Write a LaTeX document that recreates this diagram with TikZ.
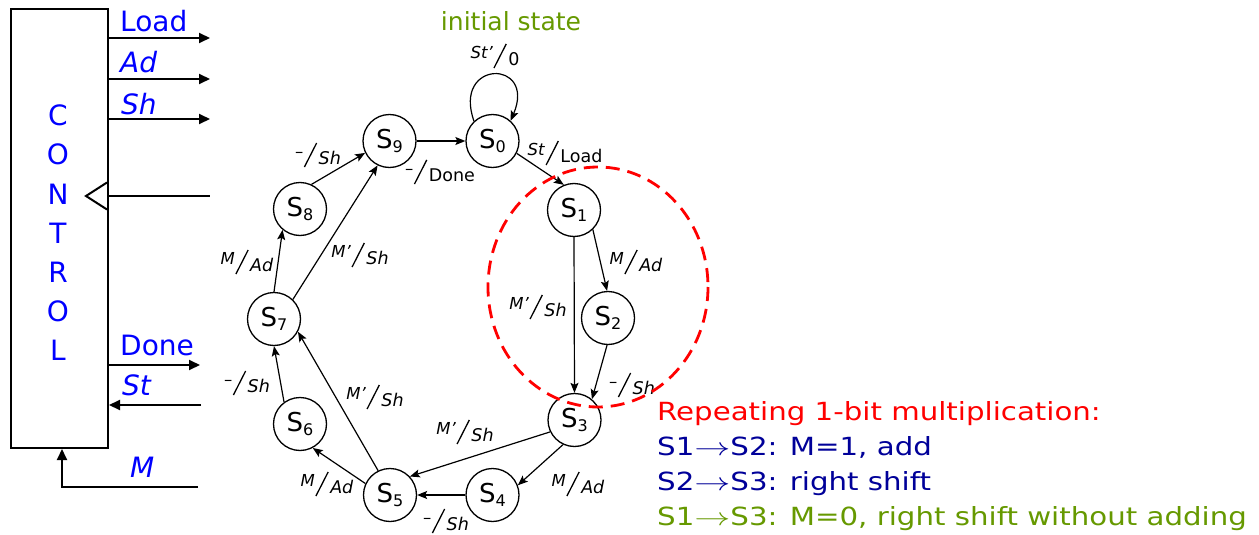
\documentclass[tikz,border=0pt]{standalone}
\usepackage{fontspec}
\setmainfont{DejaVu Sans}
\newfontfamily\legendfont[FakeStretch=1.17]{DejaVu Sans}
\usepackage{graphicx}
\usetikzlibrary{arrows.meta}

\definecolor{sigblue}{RGB}{0,0,255}
\definecolor{navytext}{RGB}{0,0,153}
\definecolor{leafgreen}{RGB}{102,153,0}
\definecolor{hotred}{RGB}{255,0,0}

% subscript of a state name
\newcommand{\stsub}[1]{\raisebox{-4pt}{\fontsize{16}{16}\selectfont #1}}
% thin tall slash between input and output
\newcommand{\tallslash}{\raisebox{-4pt}{\rotatebox{-27}{\rule{1.3pt}{27pt}}}}
% input/output label of a transition: raised input, tall slash, lowered output
\newcommand{\trn}[2]{\raisebox{5pt}{\fontsize{16.5}{16.5}\selectfont #1}\kern0.5pt\tallslash\kern1.5pt\raisebox{-2pt}{#2}}
% long thin arrow in the legend
\newcommand{\legarrow}{\scalebox{1.45}[1]{$\rightarrow$}}

\begin{document}
\begin{tikzpicture}[x=1pt,y=-1pt,
  state/.style={circle, draw, line width=1.3pt, minimum size=53pt, inner sep=0pt,
    font=\fontsize{26}{26}\selectfont},
  tr/.style={line width=1.2pt, -{Stealth[length=10pt,width=8pt,inset=2pt]}},
  lab/.style={inner sep=0pt, font=\fontsize{17.5}{17.5}\selectfont},
  sig/.style={line width=2pt, -{Triangle[length=11pt,width=10pt]}},
  siglab/.style={inner sep=0pt, anchor=base west, text=sigblue,
    font=\fontsize{28}{28}\selectfont},
  legend/.style={inner sep=0pt, anchor=base west, font=\legendfont\fontsize{25}{25}\selectfont}]

\fill[white] (0,0) rectangle (1259,535);

% ---------------- control unit ----------------
\node[draw, line width=2pt, minimum width=97pt, minimum height=439pt,
      anchor=north west, inner sep=0pt] (ctrl) at (10,8) {};
\node[text=sigblue, align=center, inner sep=0pt,
      font=\fontsize{28}{39.2}\selectfont] (ctrlname) at (58,233) {C\\O\\N\\T\\R\\O\\L};

\coordinate (loadE) at (210,38);
\coordinate (adE)   at (210,79);
\coordinate (shE)   at (210,119);
\coordinate (clkE)  at (210,196);
\coordinate (doneE) at (200,365);
\coordinate (stE)   at (201,405);
\coordinate (mE)    at (198,487);
\coordinate (mC)    at (62,487);

\draw[sig] (ctrl.east |- loadE) -- (loadE);
\draw[sig] (ctrl.east |- adE) -- (adE);
\draw[sig] (ctrl.east |- shE) -- (shE);
\draw[line width=2pt] (ctrl.east |- clkE) -- (clkE);
\draw[line width=2pt, line join=miter] (107,182.5) -- (86,196) -- (107,209.5);
\draw[sig] (ctrl.east |- doneE) -- (doneE);
\draw[sig] (stE) -- (ctrl.east |- stE);
\draw[sig] (mE) -- (mC) -- (mC |- ctrl.south);

\node[siglab] (tload) at (120,32)  {Load};
\node[siglab] (tad)   at (120,73)  {\textit{Ad}};
\node[siglab] (tsh)   at (121,114) {\textit{Sh}};
\node[siglab] (tdone) at (120,355) {Done};
\node[siglab] (tst)   at (122,395) {\textit{St}};
\node[siglab] (tm)    at (130,477) {\textit{M}};

% ---------------- state graph ----------------
\node[state] (s0) at (492.5,141) {S\stsub{0}};
\node[state] (s1) at (574,210)   {S\stsub{1}};
\node[state] (s2) at (608,318)   {S\stsub{2}};
\node[state] (s3) at (574.5,420) {S\stsub{3}};
\node[state] (s4) at (492.5,495) {S\stsub{4}};
\node[state] (s5) at (390,495)   {S\stsub{5}};
\node[state] (s6) at (300,424)   {S\stsub{6}};
\node[state] (s7) at (274,319)   {S\stsub{7}};
\node[state] (s8) at (300,209)   {S\stsub{8}};
\node[state] (s9) at (389.5,141) {S\stsub{9}};

\node[text=leafgreen, inner sep=0pt, font=\fontsize{25}{25}\selectfont] (init) at (511,21) {initial state};

\draw[tr] (s0.133) .. controls +(-22,-62) and +(26,-62) .. (s0.48);
\draw[tr] (s9) -- (s0);
\draw[tr] (s0.-27) -- (s1.112);
\draw[tr] (s1.-46) -- (s2.92);
\draw[tr] (s1.south) -- (s3.north);
\draw[tr] (s2.268) -- (s3.50);
\draw[tr] (s3.245) -- (s4.21);
\draw[tr] (s3.206) -- (s5.43);
\draw[tr] (s4) -- (s5);
\draw[tr] (s5.155) -- (s6.-62);
\draw[tr] (s5.116) -- (s7.-28);
\draw[tr] (s6.126) -- (s7.south);
\draw[tr] (s7.north) -- (s8.230);
\draw[tr] (s7.46) -- (s9.244);
\draw[tr] (s8.65) -- (s9.206);

\node[lab] (l00) at (495,56)  {\trn{\textit{St'}}{0}};
\node[lab] (l01) at (565,153) {\trn{\textit{St}}{Load}};
\node[lab] (l90) at (440,172) {\trn{–}{Done}};
\node[lab] (l89) at (318,155) {\trn{–}{\textit{Sh}}};
\node[lab] (l78) at (247,262) {\trn{\textit{M}}{\textit{Ad}}};
\node[lab] (l79) at (360,255) {\trn{\textit{M'}}{\textit{Sh}}};
\node[lab] (l12) at (636,262) {\trn{\textit{M}}{\textit{Ad}}};
\node[lab] (l13) at (538,307) {\trn{\textit{M'}}{\textit{Sh}}};
\node[lab] (l23) at (632,385) {\trn{–}{\textit{Sh}}};
\node[lab] (l67) at (247,383) {\trn{–}{\textit{Sh}}};
\node[lab] (l57) at (375,397) {\trn{\textit{M'}}{\textit{Sh}}};
\node[lab] (l35) at (465,432) {\trn{\textit{M'}}{\textit{Sh}}};
\node[lab] (l34) at (578,484) {\trn{\textit{M}}{\textit{Ad}}};
\node[lab] (l56) at (327,484) {\trn{\textit{M}}{\textit{Ad}}};
\node[lab] (l45) at (446,521) {\trn{–}{\textit{Sh}}};

% highlighted multiplication loop
\draw[hotred, line width=2.8pt, dash pattern=on 14pt off 8pt] (598,287) ellipse [x radius=110, y radius=120];

% ---------------- legend ----------------
\node[legend, text=hotred]    (g1) at (657,420) {Repeating 1-bit multiplication:};
\node[legend, text=navytext]  (g2) at (657,455) {S1\legarrow S2: M=1, add};
\node[legend, text=navytext]  (g3) at (657,490) {S2\legarrow S3: right shift};
\node[legend, text=leafgreen] (g4) at (657,525) {S1\legarrow S3: M=0, right shift without adding};
\end{tikzpicture}
\end{document}
